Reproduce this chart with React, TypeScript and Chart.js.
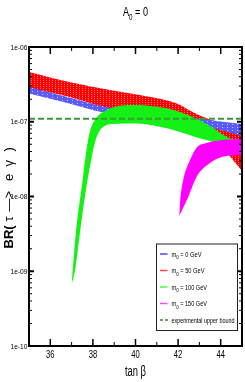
import React, { useEffect, useRef } from 'react';
import { Chart, registerables } from 'chart.js';

Chart.register(...registerables);

// ---------- axes ----------
const X_MIN = 35;
const X_MAX = 45;
const Y_MIN = 1e-10;
const Y_MAX = 1e-6;
const X_TICKS = [36, 38, 40, 42, 44];
const X_TICK_LABELS = ['36', '38', '40', '42', '44'];
const X_MINOR_TICKS = [35, 37, 39, 41, 43, 45];
const Y_TICKS = [1e-6, 1e-7, 1e-8, 1e-9, 1e-10];
const Y_TICK_LABELS = ['1e-06', '1e-07', '1e-08', '1e-09', '1e-10'];
const Y_DECADES = [1e-10, 1e-9, 1e-8, 1e-7];
const Y_MINOR_MULT = [2, 3, 4, 5, 6, 7, 8, 9];

// ---------- series (band edges) ----------
// m0 = 0 GeV
const M0_0_TOP_X = [35, 36.8, 38.5, 40, 41.5, 42.8, 43.3, 44, 45];
const M0_0_TOP_Y = [2.92e-7, 2.14e-7, 1.6e-7, 1.39e-7, 1.23e-7, 1.105e-7, 1.07e-7, 1.01e-7, 9.33e-8];
const M0_0_BOT_X = [35, 36.8, 38.5, 40, 41.5, 42.8, 43.3, 44, 45];
const M0_0_BOT_Y = [2.39e-7, 1.78e-7, 1.33e-7, 1.16e-7, 1.02e-7, 9.05e-8, 8.51e-8, 7.76e-8, 6.45e-8];

// m0 = 50 GeV
const M0_50_TOP_X = [35, 36.9, 38.8, 40.2, 41.4, 42.0, 42.5, 43.3, 44.2, 45];
const M0_50_TOP_Y = [4.63e-7, 3.4e-7, 2.66e-7, 2.28e-7, 1.95e-7, 1.73e-7, 1.44e-7, 1.12e-7, 9.05e-8, 7.07e-8];
const M0_50_BOT_X = [35, 36.9, 38.5, 40, 42, 43, 44, 44.5, 45];
const M0_50_BOT_Y = [2.83e-7, 2.14e-7, 1.58e-7, 1.35e-7, 1.06e-7, 8.25e-8, 4.74e-8, 3.27e-8, 2.19e-8];

// m0 = 100 GeV
const M0_100_TOP_X = [37.0, 37.2, 37.5, 37.7, 37.84, 38.2, 38.67, 39.2, 39.8, 40.5, 41.7, 42.8, 43.5, 44.3, 45];
const M0_100_TOP_Y = [6.55e-10, 3.25e-9, 1.52e-8, 4.19e-8, 7.07e-8, 1.16e-7, 1.44e-7, 1.62e-7, 1.68e-7, 1.65e-7, 1.46e-7, 1.12e-7, 8.77e-8, 6.25e-8, 5.53e-8];
const M0_100_BOT_X = [37.0, 37.19, 37.39, 37.6, 37.86, 38.13, 38.41, 38.96, 40.0, 41.3, 42.4, 42.8, 43.5, 44.3, 45];
const M0_100_BOT_Y = [6.55e-10, 1.15e-9, 3.25e-9, 8.98e-9, 2.5e-8, 5.7e-8, 8.17e-8, 9.33e-8, 9.47e-8, 8.38e-8, 6.86e-8, 6.25e-8, 5.53e-8, 4.74e-8, 3.94e-8];

// m0 = 150 GeV
const M0_150_TOP_X = [42.05, 42.1, 42.24, 42.56, 42.87, 43.34, 44.12, 45];
const M0_150_TOP_Y = [5.48e-9, 8.98e-9, 1.66e-8, 3.08e-8, 4.5e-8, 5.2e-8, 5.7e-8, 5.88e-8];
const M0_150_BOT_X = [42.05, 42.3, 42.48, 42.87, 43.5, 44.1, 45];
const M0_150_BOT_Y = [5.48e-9, 7.7e-9, 9.94e-9, 1.84e-8, 2.81e-8, 3.41e-8, 3.59e-8];

// experimental upper bound
const BOUND_X = [35, 45];
const BOUND_Y = [1.1e-7, 1.1e-7];

const LEGEND_M0 = ['0', '50', '100', '150'];
const LEGEND_BOUND = 'experimental upper bound';

const FONT = '"Liberation Sans", Arial, Helvetica, sans-serif';

type Part = { t: string; font: string; dy?: number };

function drawFit(ctx: CanvasRenderingContext2D, parts: Part[], x: number, y: number, targetW: number, align: 'left' | 'center' | 'right') {
  const widths = parts.map((p) => {
    ctx.font = p.font;
    return ctx.measureText(p.t).width;
  });
  const total = widths.reduce((a, b) => a + b, 0);
  const s = targetW / total;
  const start = align === 'left' ? x : align === 'center' ? x - targetW / 2 : x - targetW;
  ctx.save();
  ctx.translate(start, y);
  ctx.scale(s, 1);
  ctx.textAlign = 'left';
  ctx.textBaseline = 'alphabetic';
  let cx = 0;
  parts.forEach((p, i) => {
    ctx.font = p.font;
    ctx.fillText(p.t, cx, p.dy || 0);
    cx += widths[i];
  });
  ctx.restore();
}

const decorPlugin = {
  id: 'decor',
  afterDraw(chart: any) {
    const { ctx, chartArea: a, scales } = chart;
    const xs = scales.x;
    const ys = scales.y;
    ctx.save();
    ctx.strokeStyle = '#000';
    ctx.fillStyle = '#000';
    const seg = (x1: number, y1: number, x2: number, y2: number, w: number) => {
      ctx.lineWidth = w;
      ctx.beginPath();
      ctx.moveTo(x1, y1);
      ctx.lineTo(x2, y2);
      ctx.stroke();
    };
    // x ticks (inward, top & bottom)
    X_TICKS.forEach((v) => {
      const px = xs.getPixelForValue(v);
      seg(px, a.bottom, px, a.bottom - 7, 1.5);
      seg(px, a.top, px, a.top + 7, 1.5);
    });
    X_MINOR_TICKS.forEach((v) => {
      const px = xs.getPixelForValue(v);
      seg(px, a.bottom, px, a.bottom - 4, 1);
      seg(px, a.top, px, a.top + 4, 1);
    });
    // y ticks (inward, left & right)
    Y_TICKS.forEach((v) => {
      const py = ys.getPixelForValue(v);
      seg(a.left, py, a.left + 5, py, 2);
      seg(a.right, py, a.right - 5, py, 2);
    });
    Y_DECADES.forEach((d) => {
      Y_MINOR_MULT.forEach((m) => {
        const py = ys.getPixelForValue(d * m);
        seg(a.left, py, a.left + 3, py, 1);
        seg(a.right, py, a.right - 3, py, 1);
      });
    });
    // frame
    ctx.lineWidth = 2;
    ctx.strokeRect(a.left, a.top, a.right - a.left, a.bottom - a.top);

    // tick labels
    Y_TICKS.forEach((v, i) => {
      const py = ys.getPixelForValue(v);
      drawFit(ctx, [{ t: Y_TICK_LABELS[i], font: `7px ${FONT}` }], a.left - 1.5, py + 2.5, 17, 'right');
    });
    X_TICKS.forEach((v, i) => {
      const px = xs.getPixelForValue(v);
      drawFit(ctx, [{ t: X_TICK_LABELS[i], font: `11px ${FONT}` }], px, a.bottom + 12.3, 8.5, 'center');
    });

    // title
    const cx = (a.left + a.right) / 2;
    drawFit(
      ctx,
      [
        { t: 'A', font: `13px ${FONT}` },
        { t: '0', font: `9px ${FONT}`, dy: 4 },
        { t: ' = 0', font: `13px ${FONT}` },
      ],
      cx,
      16.3,
      25,
      'center'
    );
    // x title
    drawFit(ctx, [{ t: 'tan β', font: `14px ${FONT}` }], cx, a.bottom + 29.5, 21, 'center');

    // y title (rotated)
    ctx.save();
    ctx.translate(13, (a.top + a.bottom) / 2 + 52);
    ctx.rotate(-Math.PI / 2);
    ctx.textAlign = 'left';
    ctx.textBaseline = 'alphabetic';
    ctx.font = `bold 13px ${FONT}`;
    ctx.fillText('BR(', 0, 0);
    ctx.font = `13px ${FONT}`;
    ctx.fillText('τ', 27, 0);
    ctx.fillText('—>', 37, 0);
    ctx.fillText('e', 67.5, 0);
    ctx.fillText('γ', 82, 0);
    ctx.fillText(')', 97, 0);
    ctx.restore();

    // legend
    const lx = a.right - 86;
    const ly = a.bottom - 102.5;
    const lw = 81;
    const lh = 86.5;
    ctx.fillStyle = '#fff';
    ctx.fillRect(lx, ly, lw, lh);
    ctx.strokeStyle = '#222';
    ctx.lineWidth = 1;
    ctx.strokeRect(lx + 0.5, ly + 0.5, lw, lh);
    const rowY = [10.5, 27, 43.5, 60, 76.5];
    const lineColors = ['#4848ff', '#ff4848', '#48ff48', '#ff48ff'];
    const textW = [30, 33, 35.5, 35.5];
    ctx.fillStyle = '#000';
    LEGEND_M0.forEach((m, i) => {
      const y = ly + rowY[i];
      ctx.strokeStyle = lineColors[i];
      ctx.lineWidth = 1.5;
      ctx.beginPath();
      ctx.moveTo(lx + 4, y);
      ctx.lineTo(lx + 11.5, y);
      ctx.stroke();
      ctx.fillStyle = '#000';
      drawFit(
        ctx,
        [
          { t: 'm', font: `7px ${FONT}` },
          { t: '0', font: `5.5px ${FONT}`, dy: 2.5 },
          { t: ` = ${m} GeV`, font: `7px ${FONT}` },
        ],
        lx + 15.5,
        y + 2.5,
        textW[i],
        'left'
      );
    });
    const by = ly + rowY[4];
    ctx.strokeStyle = '#2a8a2a';
    ctx.lineWidth = 1.5;
    ctx.setLineDash([3, 2]);
    ctx.beginPath();
    ctx.moveTo(lx + 4, by);
    ctx.lineTo(lx + 12, by);
    ctx.stroke();
    ctx.setLineDash([]);
    ctx.fillStyle = '#000';
    drawFit(ctx, [{ t: LEGEND_BOUND, font: `7px ${FONT}` }], lx + 15.5, by + 2.5, 63, 'left');
    ctx.restore();
  },
};

function makePattern(base: string, accent: string, w: number, h: number, pts: number[][]) {
  const c = document.createElement('canvas');
  c.width = w;
  c.height = h;
  const g = c.getContext('2d')!;
  g.fillStyle = base;
  g.fillRect(0, 0, w, h);
  g.fillStyle = accent;
  pts.forEach(([x, y]) => g.fillRect(x, y, 1, 1));
  const p = g.createPattern(c, 'repeat');
  return p || base;
}

const zip = (xs: number[], ys: number[]) => xs.map((x, i) => ({ x, y: ys[i] }));

function band(label: string, tx: number[], ty: number[], bx: number[], by: number[], fill: any, order: number) {
  const common = {
    pointRadius: 0,
    borderWidth: 0,
    borderColor: 'rgba(0,0,0,0)',
    cubicInterpolationMode: 'monotone' as const,
    order,
  };
  return [
    { ...common, label, data: zip(tx, ty), fill: '+1', backgroundColor: fill },
    { ...common, label: label + ' (lower)', data: zip(bx, by), fill: false, backgroundColor: fill },
  ];
}

export default function App() {
  const ref = useRef<HTMLCanvasElement>(null);
  useEffect(() => {
    const red = makePattern('#ff0000', '#ff7a7a', 3, 2, [[1, 0]]);
    const blue = makePattern('#5a5aff', '#c8c8ff', 5, 3, [[2, 1]]);
    const green = makePattern('#00ff00', '#3bd43b', 3, 1, [[2, 0]]);
    const magenta = '#ff00ff';
    const datasets: any[] = [
      ...band('m0 = 50 GeV', M0_50_TOP_X, M0_50_TOP_Y, M0_50_BOT_X, M0_50_BOT_Y, red, 4),
      ...band('m0 = 0 GeV', M0_0_TOP_X, M0_0_TOP_Y, M0_0_BOT_X, M0_0_BOT_Y, blue, 3),
      ...band('m0 = 100 GeV', M0_100_TOP_X, M0_100_TOP_Y, M0_100_BOT_X, M0_100_BOT_Y, green, 2),
      ...band('m0 = 150 GeV', M0_150_TOP_X, M0_150_TOP_Y, M0_150_BOT_X, M0_150_BOT_Y, magenta, 1),
      {
        label: LEGEND_BOUND,
        data: zip(BOUND_X, BOUND_Y),
        borderColor: '#3a9a3a',
        borderWidth: 2,
        borderDash: [6, 3],
        pointRadius: 0,
        fill: false,
        order: 0,
      },
    ];
    const chart = new Chart(ref.current!, {
      type: 'line',
      data: { datasets },
      options: {
        animation: false,
        responsive: true,
        maintainAspectRatio: false,
        events: [],
        layout: { padding: { left: 29, top: 47, right: 3, bottom: 36 } },
        scales: {
          x: { type: 'linear', min: X_MIN, max: X_MAX, display: false },
          y: { type: 'logarithmic', min: Y_MIN, max: Y_MAX, display: false },
        },
        plugins: {
          legend: { display: false },
          tooltip: { enabled: false },
          title: { display: false },
        },
      },
      plugins: [decorPlugin],
    } as any);
    return () => chart.destroy();
  }, []);
  return (
    <div style={{ position: 'fixed', left: 0, top: 0, width: 245, height: 382, background: '#fff' }}>
      <canvas ref={ref} />
    </div>
  );
}
